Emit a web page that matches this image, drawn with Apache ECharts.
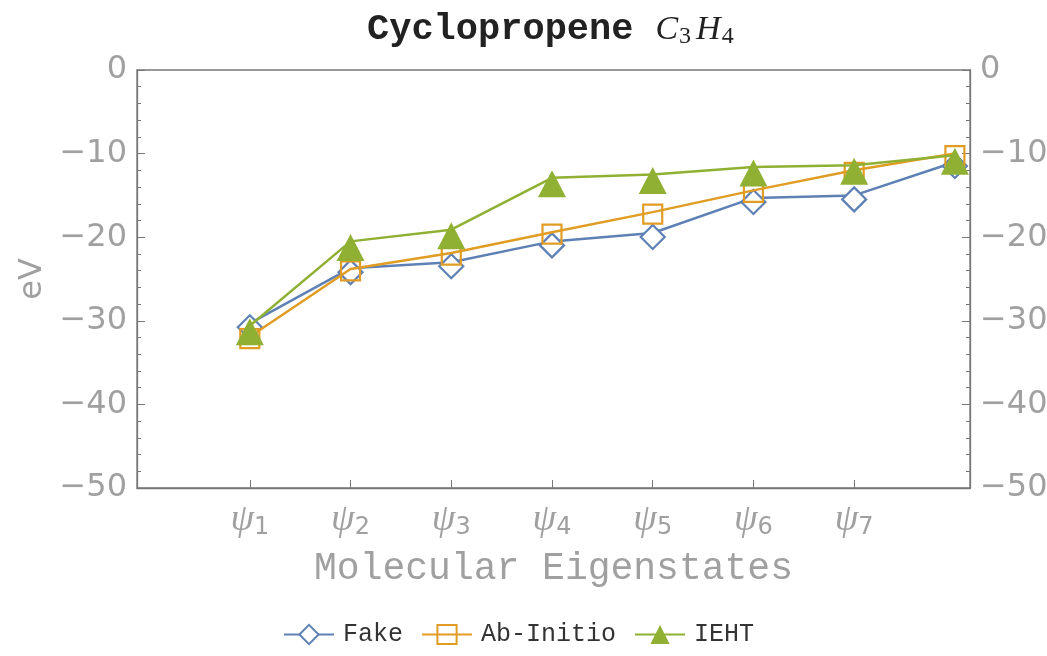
<!DOCTYPE html>
<html>
<head>
<meta charset="utf-8">
<script src="https://cdn.jsdelivr.net/npm/echarts@6/dist/echarts.min.js"></script>
<style>
html,body{margin:0;padding:0;background:#fff;}
#c{width:1047px;height:656px;}
</style>
</head>
<body>
<div id="c"></div>
<script>
var xPositions = [1, 2, 3, 4, 5, 6, 7, 8];
var xTickValues = [1, 2, 3, 4, 5, 6, 7];
var xTickSubs = ['1', '2', '3', '4', '5', '6', '7'];
var fakeValues = [-30.3, -23.7, -23.0, -20.5, -19.5, -15.3, -15.0, -11.0];
var abInitioValues = [-31.9, -23.8, -21.9, -19.4, -17.0, -14.4, -12.0, -10.0];
var iehtValues = [-30.6, -20.5, -19.1, -12.9, -12.5, -11.6, -11.4, -10.2];

function pairs(vals) { return xPositions.map(function (x, i) { return [x, vals[i]]; }); }

var axisColor = '#777';
var labelColor = '#a0a0a0';
var chart = echarts.init(document.getElementById('c'), null, {renderer: 'canvas'});

function yAxisDef(pos) {
  return {
    type: 'value', position: pos, min: -50, max: 0, interval: 10,
    axisLine: {show: true, onZero: false, lineStyle: {color: axisColor, width: 1.3}},
    axisTick: {show: true, inside: true, length: 8, lineStyle: {color: axisColor}},
    minorTick: {show: true, splitNumber: 5, length: 4, lineStyle: {color: axisColor}},
    splitLine: {show: false},
    axisLabel: {
      color: labelColor, fontSize: 32, fontFamily: 'DejaVu Sans', margin: 10,
      formatter: function (v) { return v < 0 ? '\u2212' + Math.abs(v) : String(v); }
    },
    name: pos === 'left' ? 'eV' : '',
    nameLocation: 'middle', nameGap: 86,
    nameTextStyle: {color: labelColor, fontSize: 32, fontFamily: 'DejaVu Sans'}
  };
}

var option = {
  backgroundColor: '#fff',
  animation: false,
  title: {
    text: '{b|Cyclopropene}{i|C}{s|3}{h|H}{s|4}',
    left: 362, top: 6,
    textStyle: {
      fontWeight: 'normal',
      rich: {
        b: {fontFamily: 'Liberation Mono', fontWeight: 'bold', fontSize: 37, color: '#222', padding: [0, 22, 0, 0]},
        i: {fontFamily: 'Liberation Serif', fontStyle: 'italic', fontWeight: 'normal', fontSize: 34, color: '#222'},
        h: {fontFamily: 'Liberation Serif', fontStyle: 'italic', fontWeight: 'normal', fontSize: 34, color: '#222', padding: [0, 0, 0, 5]},
        s: {fontFamily: 'Liberation Serif', fontWeight: 'normal', fontSize: 24, color: '#222', padding: [14, 0, 0, 1]}
      }
    }
  },
  grid: {left: 137, right: 77, top: 70, bottom: 168, show: true, borderColor: axisColor, borderWidth: 1.3, containLabel: false, outerBoundsMode: 'none'},
  xAxis: {
    type: 'value', min: -0.12, max: 8.15,
    axisLine: {show: true, onZero: false, lineStyle: {color: axisColor, width: 1.3}},
    axisTick: {show: true, inside: true, length: 8, customValues: xTickValues, lineStyle: {color: axisColor}},
    splitLine: {show: false},
    axisLabel: {
      customValues: xTickValues, margin: 12,
      formatter: function (v) { var i = xTickValues.indexOf(v); return '{p|\u03C8}{s|' + xTickSubs[i] + '}'; },
      rich: {
        p: {fontFamily: 'Liberation Serif', fontStyle: 'italic', fontSize: 38, color: labelColor},
        s: {fontFamily: 'DejaVu Sans', fontSize: 24, color: labelColor, padding: [16, 0, 0, 0]}
      }
    },
    name: 'Molecular Eigenstates', nameLocation: 'middle', nameGap: 62,
    nameTextStyle: {fontFamily: 'Liberation Mono', fontSize: 38, color: labelColor}
  },
  yAxis: [yAxisDef('left'), yAxisDef('right')],
  legend: {
    bottom: 4, left: 278, itemWidth: 50, itemHeight: 24, itemGap: 18,
    textStyle: {fontFamily: 'Liberation Mono', fontSize: 25, color: '#333', padding: [0, 0, 0, 4]},
    data: ['Fake', 'Ab-Initio', 'IEHT']
  },
  series: [
    {
      name: 'Fake', type: 'line', data: pairs(fakeValues),
      symbol: 'diamond', symbolSize: [24, 24], symbolOffset: [0, 4],
      lineStyle: {color: '#5E81B5', width: 2.5}, z: 3,
      itemStyle: {color: '#fff', borderColor: '#5E81B5', borderWidth: 2.2, opacity: 1}
    },
    {
      name: 'Ab-Initio', type: 'line', data: pairs(abInitioValues),
      symbol: 'rect', symbolSize: [19, 19], symbolOffset: [0, 2],
      lineStyle: {color: '#E19C24', width: 2.5}, z: 4,
      itemStyle: {color: 'rgba(255,255,255,0)', borderColor: '#E19C24', borderWidth: 2.2}
    },
    {
      name: 'IEHT', type: 'line', data: pairs(iehtValues),
      symbol: 'triangle', symbolSize: [28, 27], symbolOffset: [0, 6],
      lineStyle: {color: '#8FB032', width: 2.5}, z: 5,
      itemStyle: {color: '#8FB032', borderWidth: 0}
    }
  ]
};
chart.setOption(option);
</script>
</body>
</html>
